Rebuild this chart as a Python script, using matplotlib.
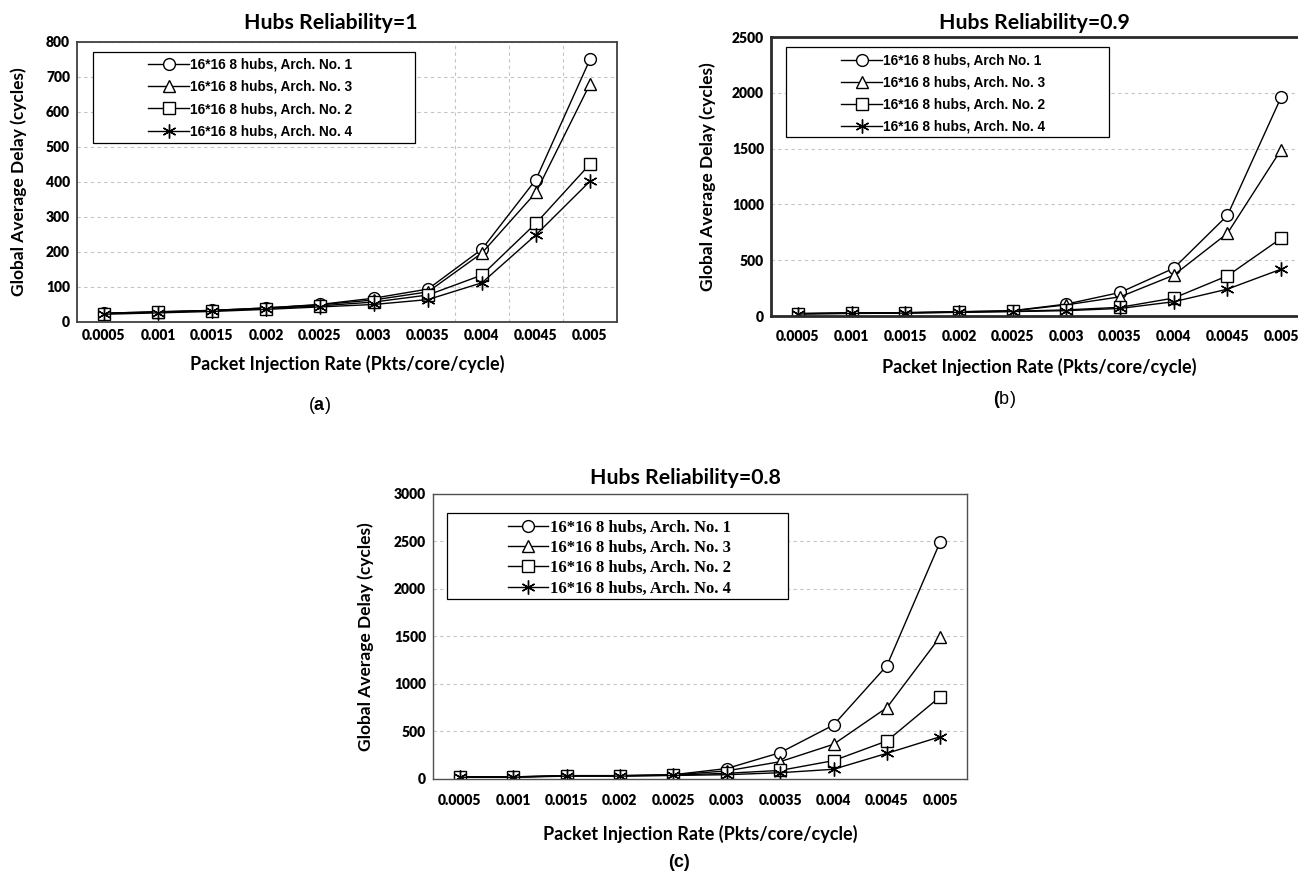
import numpy as np
import matplotlib.pyplot as plt
from matplotlib.patches import Rectangle

plt.rcParams['mathtext.fontset'] = 'custom'
plt.rcParams['mathtext.rm'] = 'Liberation Sans'
plt.rcParams['mathtext.bf'] = 'Liberation Sans:bold'

rates = ['0.0005', '0.001', '0.0015', '0.002', '0.0025',
         '0.003', '0.0035', '0.004', '0.0045', '0.005']

# hubs reliability = 1
a_arch1 = [25, 29, 33, 40, 50, 68, 94, 208, 407, 750]
a_arch3 = [25, 29, 33, 40, 49, 63, 86, 197, 370, 680]
a_arch2 = [24, 28, 32, 38, 46, 57, 77, 134, 282, 451]
a_arch4 = [22, 26, 30, 36, 43, 50, 64, 112, 249, 402]

# hubs reliability = 0.9
b_arch1 = [22, 28, 30, 38, 48, 107, 211, 428, 902, 1961]
b_arch3 = [22, 28, 30, 38, 46, 100, 172, 366, 741, 1491]
b_arch2 = [20, 25, 28, 35, 42, 55, 78, 161, 360, 696]
b_arch4 = [18, 23, 26, 33, 40, 48, 68, 128, 241, 420]

# hubs reliability = 0.8
c_arch1 = [22, 22, 35, 35, 45, 110, 277, 568, 1193, 2498]
c_arch3 = [22, 22, 35, 35, 43, 85, 182, 365, 751, 1498]
c_arch2 = [20, 20, 33, 33, 40, 60, 90, 193, 400, 867]
c_arch4 = [18, 18, 30, 30, 37, 45, 66, 102, 270, 445]

labels_a = ['16*16 8 hubs, Arch. No. 1', '16*16 8 hubs, Arch. No. 3',
            '16*16 8 hubs, Arch. No. 2', '16*16 8 hubs, Arch. No. 4']
labels_b = ['16*16 8 hubs, Arch No. 1', '16*16 8 hubs, Arch. No. 3',
            '16*16 8 hubs, Arch. No. 2', '16*16 8 hubs, Arch. No. 4']
labels_c = labels_a

markers = ['o', '^', 's', (6, 2, 0)]
msizes = [8.5, 8.5, 8.5, 10]
SANS = ['Lato', 'DejaVu Sans']


def panel(fig, rect, series, labels, ymax, ystep, title, title_y, title_x,
          ylab_x, xlab_y, xpad, leg_font, leg_box, leg_center, leg_space,
          handle_len, spine_c, spine_w):
    ax = fig.add_axes(rect)
    x = np.arange(len(rates))
    for ys, lab, m, ms in zip(series, labels, markers, msizes):
        ax.plot(x, ys, color='black', lw=1.0, marker=m, ms=ms,
                mfc='white', mec='black', mew=1.0, label=lab)
    ax.set_xlim(-0.5, len(rates) - 0.5)
    ax.set_ylim(0, ymax)
    ax.set_yticks(np.arange(0, ymax + 1, ystep))
    ax.set_xticks(x)
    ax.set_xticklabels(rates)
    for t in ax.get_xticklabels() + ax.get_yticklabels():
        t.set_fontfamily(SANS)
        t.set_fontweight('heavy')
        t.set_fontsize(10)
    ax.tick_params(axis='x', length=0, pad=xpad)
    ax.tick_params(axis='y', length=0, pad=5)
    ax.set_axisbelow(True)
    ax.yaxis.grid(True, ls=(0, (3, 3)), color='#c4c4c4', lw=0.8)
    for s in ax.spines.values():
        s.set_color(spine_c)
        s.set_linewidth(spine_w)
    ax.set_xlabel('Packet Injection Rate (Pkts/core/cycle)', fontsize=13,
                  fontweight='bold', family=SANS)
    ax.set_ylabel('Global Average Delay (cycles)', fontsize=12.5,
                  fontweight='bold', family=SANS)
    ax.xaxis.set_label_coords(0.5, xlab_y)
    ax.yaxis.set_label_coords(ylab_x, 0.5)
    ax.text(title_x, title_y, title, transform=ax.transAxes, ha='center',
            va='baseline', fontsize=15.3, fontweight='bold', family=SANS)
    x0, y0, x1, y1 = leg_box
    ax.add_patch(Rectangle((x0, y0), x1 - x0, y1 - y0, transform=ax.transAxes,
                           fill=True, fc='white', ec='black', lw=0.9, zorder=4))
    leg = ax.legend(loc='center', bbox_to_anchor=leg_center, frameon=False,
                    prop=leg_font, handlelength=handle_len, handletextpad=0.1,
                    labelspacing=leg_space, borderpad=0)
    leg.set_zorder(5)
    return ax


fig = plt.figure(figsize=(12.98, 8.73), dpi=100)

narrow = {'family': ['Liberation Sans', 'DejaVu Sans'],
          'weight': 'bold', 'size': 9.8}
serif = {'family': ['Liberation Serif', 'DejaVu Serif'],
         'weight': 'bold', 'size': 12}

ax_a = panel(fig, [0.0593, 0.6312, 0.416, 0.3207],
             [a_arch1, a_arch3, a_arch2, a_arch4], labels_a, 800, 100,
             'Hubs Reliability=1', 1.045, 0.47, -0.093, -0.118, 5,
             narrow, (0.0296, 0.639, 0.626, 0.964), (0.321, 0.80), 0.62,
             3.0, '#404040', 1.3)
for gx in [6.5, 7.5, 8.5]:
    ax_a.axvline(gx, ls=(0, (3, 3)), color='#c4c4c4', lw=0.8, zorder=0)

ax_b = panel(fig, [0.594, 0.638, 0.4137, 0.3196],
             [b_arch1, b_arch3, b_arch2, b_arch4], labels_b, 2500, 500,
             'Hubs Reliability=0.9', 1.03, 0.49, -0.102, -0.15, 10,
             narrow, (0.028, 0.642, 0.629, 0.964), (0.321, 0.797), 0.6,
             3.0, '#2a2a2a', 2.0)

ax_c = panel(fig, [0.3336, 0.1077, 0.4114, 0.3265],
             [c_arch1, c_arch3, c_arch2, c_arch4], labels_c, 3000, 500,
             'Hubs Reliability=0.8', 1.036, 0.472, -0.111, -0.16, 10.5,
             serif, (0.026, 0.632, 0.665, 0.933), (0.349, 0.775), 0.26,
             2.4, '#505050', 1.0)

fig.text(0.2458, 0.536, r'($\mathbf{a}$)', ha='center', va='center',
         fontsize=13, family='Liberation Sans')
fig.text(0.7735, 0.542, r'$\mathbf{(}$b)', ha='center', va='center',
         fontsize=13, family='Liberation Sans')
fig.text(0.523, 0.0126, '(c)', ha='center', va='center', fontsize=13,
         fontweight='bold', family='Liberation Sans')

fig.savefig('out.png', dpi=100)
